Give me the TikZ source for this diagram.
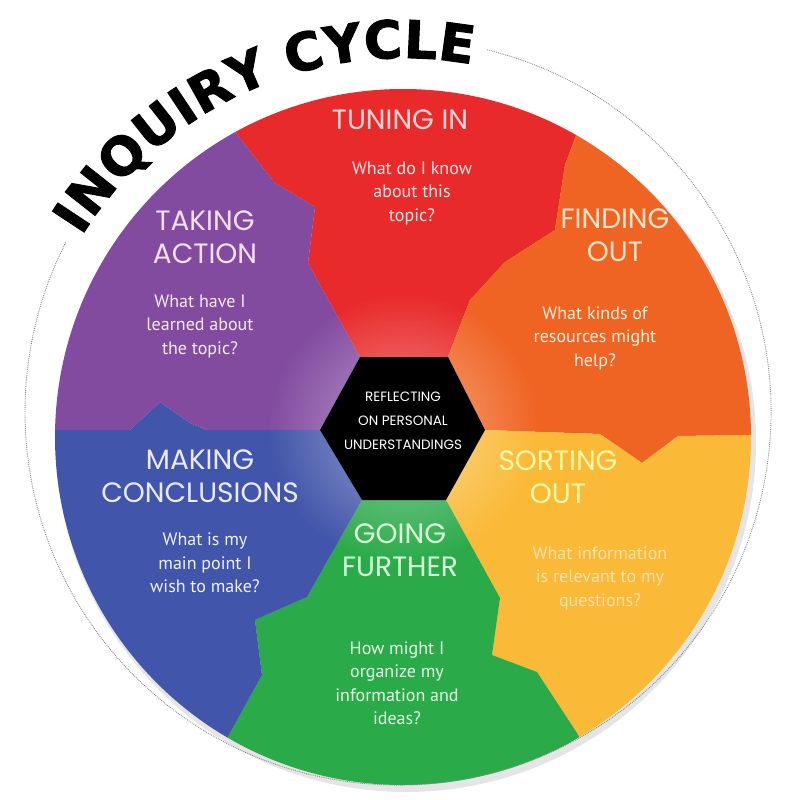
\documentclass[tikz,border=0pt]{standalone}
\usepackage{fontspec}
\newfontfamily\headfont{Poppins}
\newfontfamily\askfont{PT Sans}
\newfontfamily\titlefont{DejaVu Sans}[BoldFeatures={FakeBold=2}]
\usetikzlibrary{decorations.text,fadings}
\definecolor{tuneRed}{HTML}{E92A2A}
\definecolor{findOrange}{HTML}{F06423}
\definecolor{sortYellow}{HTML}{FAB937}
\definecolor{goGreen}{HTML}{2BAA4A}
\definecolor{makeBlue}{HTML}{4155AA}
\definecolor{takePurple}{HTML}{824BA0}
\tikzfading[name=glow, inner color=transparent!0, outer color=transparent!100]
\begin{document}
\begin{tikzpicture}[x=1pt,y=-1pt,
	head/.style={font=\headfont\fontsize{28}{33}\selectfont, align=center, inner sep=0pt},
	ask/.style={font=\askfont\fontsize{18}{23.5}\selectfont, align=center, inner sep=0pt}]
\useasboundingbox (0,0) rectangle (800,800);
% hexagon corners
\coordinate (hl) at (320,430);
\coordinate (htl) at (360,357);
\coordinate (htr) at (448,357);
\coordinate (hr) at (485,430);
\coordinate (hbr) at (446,500);
\coordinate (hbl) at (362,500);
% jagged borders
\coordinate (rp1) at (308,263); \coordinate (rp2) at (315,207); \coordinate (rp3) at (275,183); \coordinate (rp4) at (232,128); \coordinate (rp5) at (185,40);
\coordinate (ro1) at (470,300); \coordinate (ro2) at (505,262); \coordinate (ro3) at (555,230); \coordinate (ro4) at (565,165); \coordinate (ro5) at (577,133); \coordinate (ro6) at (615,40);
\coordinate (oy1) at (600,434); \coordinate (oy2) at (642,463); \coordinate (oy3) at (678,436); \coordinate (oy4) at (820,434);
\coordinate (yg1) at (500,598); \coordinate (yg2) at (492,655); \coordinate (yg3) at (537,672); \coordinate (yg4) at (577,733); \coordinate (yg5) at (630,830);
\coordinate (gb1) at (307,597); \coordinate (gb2) at (255,620); \coordinate (gb3) at (262,675); \coordinate (gb4) at (230,733); \coordinate (gb5) at (180,830);
\coordinate (bp1) at (207,430); \coordinate (bp2) at (190,423); \coordinate (bp3) at (160,402); \coordinate (bp4) at (130,430); \coordinate (bp5) at (-20,430);

\fill[black!10] (406,442) circle (350);
\begin{scope}
\clip (403,437) circle (348);
\fill[tuneRed] (rp5) -- (rp4) -- (rp3) -- (rp2) -- (rp1) -- (htl) -- (htr) -- (ro1) -- (ro2) -- (ro3) -- (ro4) -- (ro5) -- (ro6) -- cycle;
\fill[findOrange] (ro6) -- (ro5) -- (ro4) -- (ro3) -- (ro2) -- (ro1) -- (htr) -- (hr) -- (oy1) -- (oy2) -- (oy3) -- (oy4) -- (820,40) -- cycle;
\fill[sortYellow] (oy4) -- (oy3) -- (oy2) -- (oy1) -- (hr) -- (hbr) -- (yg1) -- (yg2) -- (yg3) -- (yg4) -- (yg5) -- (820,830) -- cycle;
\fill[goGreen] (yg5) -- (yg4) -- (yg3) -- (yg2) -- (yg1) -- (hbr) -- (hbl) -- (gb1) -- (gb2) -- (gb3) -- (gb4) -- (gb5) -- cycle;
\fill[makeBlue] (gb5) -- (gb4) -- (gb3) -- (gb2) -- (gb1) -- (hbl) -- (hl) -- (bp1) -- (bp2) -- (bp3) -- (bp4) -- (bp5) -- (-20,830) -- cycle;
\fill[takePurple] (bp5) -- (bp4) -- (bp3) -- (bp2) -- (bp1) -- (hl) -- (htl) -- (rp1) -- (rp2) -- (rp3) -- (rp4) -- (rp5) -- (-20,40) -- cycle;
\fill[white, path fading=glow, fill opacity=.45] (403,429) circle (135);
\end{scope}
\fill[black] (hl) -- (htl) -- (htr) -- (hr) -- (hbr) -- (hbl) -- cycle;

% title and dotted ring
\path[decorate, decoration={text along path, text align=fit to path,
	text={|\titlefont\bfseries\fontsize{52}{52}\selectfont|INQUIRY{ }CYCLE}}, shift={(403,437)}]
	(-148:379) arc (-148:-79.5:379);
\draw[black!45, densely dotted, line width=.9pt, shift={(398,412)}] (-76.2:373) arc (-76.2:207.1:373);

% stages
\node[head, text=red!15!white] (tune) at (400,120) {TUNING IN};
\node[ask, text=red!10!white] (tuneq) at (412,193) {What do I know\\about this\\topic?};
\node[head, text=orange!20!white] (find) at (615,235) {FINDING\\OUT};
\node[ask, text=orange!12!white] (findq) at (595,338) {What kinds of\\resources might\\help?};
\node[head, text=yellow!35!white] (sort) at (558,477) {SORTING\\OUT};
\node[ask, text=sortYellow!40!white] (sortq) at (600,578) {What information\\is relevant to my\\questions?};
\node[head, text=green!15!white] (further) at (400,550) {GOING\\FURTHER};
\node[ask, text=green!10!white] (furtherq) at (397,683) {How might I\\organize my\\information and\\ideas?};
\node[head, text=blue!8!white] (concl) at (200,476) {MAKING\\CONCLUSIONS};
\node[ask, text=blue!6!white] (conclq) at (205,563) {What is my\\main point I\\wish to make?};
\node[head, text=violet!12!white] (action) at (205,237) {TAKING\\ACTION};
\node[ask, text=violet!8!white] (actionq) at (200,326) {What have I\\learned about\\the topic?};
\node[font=\headfont\fontsize{13.5}{24}\selectfont, align=center, text=white, inner sep=0pt] (reflect) at (403,421) {REFLECTING\\ON PERSONAL\\UNDERSTANDINGS};
\end{tikzpicture}
\end{document}
